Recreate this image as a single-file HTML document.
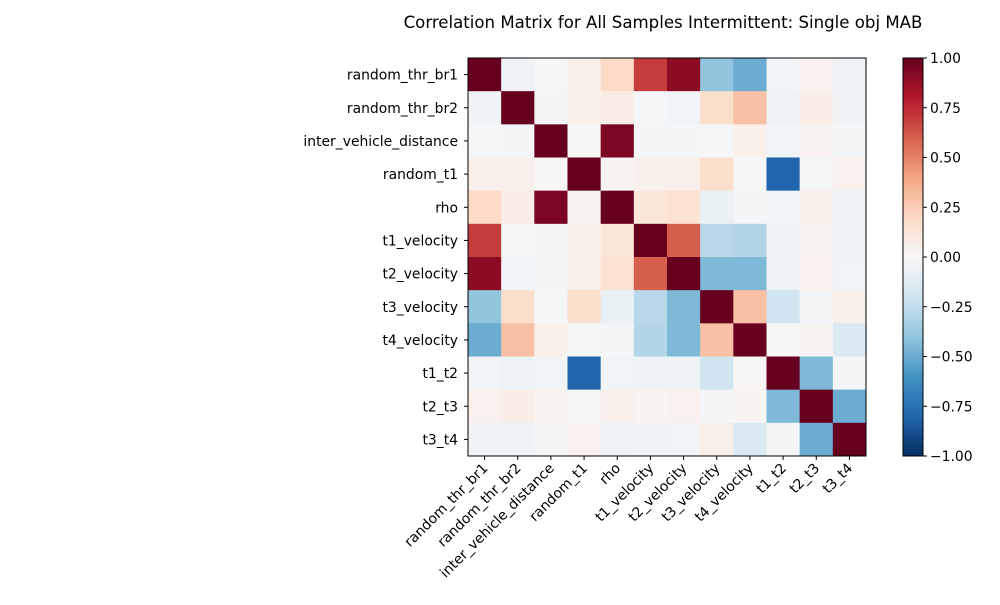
<!DOCTYPE html>
<html><head><meta charset="utf-8"><style>
body{margin:0;background:#fff;}
text{font-family:"DejaVu Sans","Liberation Sans",sans-serif;fill:#000;}
</style></head><body>
<svg id="chart" width="1000" height="600" xmlns="http://www.w3.org/2000/svg">
<defs><linearGradient id="cbgrad" x1="0" y1="1" x2="0" y2="0"></linearGradient></defs>
<text x="663" y="28" font-size="16.6" text-anchor="middle">Correlation Matrix for All Samples Intermittent: Single obj MAB</text>
<g id="cells"></g><g id="axes"></g><g id="cbar"></g>
</svg>
<script>
const labels=["random_thr_br1","random_thr_br2","inter_vehicle_distance","random_t1","rho","t1_velocity","t2_velocity","t3_velocity","t4_velocity","t1_t2","t2_t3","t3_t4"];
const matrix=[
[1,-0.04,-0.01,0.05,0.2,0.7,0.9,-0.4,-0.5,-0.03,0.04,-0.04],
[-0.04,1,-0.02,0.05,0.07,-0.01,-0.03,0.18,0.3,-0.06,0.07,-0.04],
[-0.01,-0.02,1,0.01,0.95,-0.02,-0.02,-0.01,0.05,-0.03,0.03,-0.02],
[0.05,0.05,0.01,1,0.02,0.05,0.06,0.18,-0.01,-0.8,-0.01,0.04],
[0.2,0.07,0.95,0.02,1,0.12,0.15,-0.07,-0.02,-0.03,0.05,-0.06],
[0.7,-0.01,-0.02,0.05,0.12,1,0.6,-0.28,-0.3,-0.04,0.02,-0.04],
[0.9,-0.03,-0.02,0.06,0.15,0.6,1,-0.45,-0.45,-0.05,0.04,-0.03],
[-0.4,0.18,-0.01,0.18,-0.07,-0.28,-0.45,1,0.3,-0.2,-0.02,0.06],
[-0.5,0.3,0.05,-0.01,-0.02,-0.3,-0.45,0.3,1,0.01,0.02,-0.15],
[-0.03,-0.06,-0.03,-0.8,-0.03,-0.04,-0.05,-0.2,0.01,1,-0.45,-0.02],
[0.04,0.07,0.03,-0.01,0.05,0.02,0.04,-0.02,0.02,-0.45,1,-0.5],
[-0.04,-0.04,-0.02,0.04,-0.06,-0.04,-0.03,0.06,-0.15,-0.02,-0.5,1]];
const cbTicks=[1,0.75,0.5,0.25,0,-0.25,-0.5,-0.75,-1];
const cbTickLabels=["1.00","0.75","0.50","0.25","0.00","\u22120.25","\u22120.50","\u22120.75","\u22121.00"];
const stops=["#053061","#2166ac","#4393c3","#92c5de","#d1e5f0","#f7f7f7","#fddbc7","#f4a582","#d6604d","#b2182b","#67001f"];
function hex(h){return [1,3,5].map(i=>parseInt(h.substr(i,2),16));}
function color(v){let t=(Math.max(-1,Math.min(1,v))+1)/2*10;let i=Math.min(9,Math.floor(t)),f=t-i;const a=hex(stops[i]),b=hex(stops[i+1]);return "rgb("+a.map((c,k)=>Math.round(c+(b[k]-c)*f)).join(",")+")";}
const NS="http://www.w3.org/2000/svg";
const L=468,T=58,S=398,n=labels.length,cw=S/n;
const xs=i=>L+i*cw, ys=i=>T+i*cw;
function mk(tag,attrs,parent){const e=document.createElementNS(NS,tag);for(const k in attrs)e.setAttribute(k,attrs[k]);parent.appendChild(e);return e;}
const cells=document.getElementById('cells'),axes=document.getElementById('axes'),cbar=document.getElementById('cbar');
for(let r=0;r<n;r++)for(let c=0;c<n;c++){
const e=mk('rect',{x:xs(c),y:ys(r),width:cw+0.5,height:cw+0.5,fill:color(matrix[r][c])},cells);

}
const fr=mk('rect',{x:L,y:T,width:S,height:S,fill:'none',stroke:'#000','stroke-width':1},axes);


labels.forEach((lab,i)=>{
const cy=ys(i)+cw/2,cx=xs(i)+cw/2;
mk('line',{x1:L,x2:L-4,y1:cy,y2:cy,stroke:'#000'},axes);
const ty=mk('text',{x:L-10,y:cy+5,'font-size':13.9,'text-anchor':'end'},axes);ty.textContent=lab;


mk('line',{x1:cx,x2:cx,y1:T+S,y2:T+S+4,stroke:'#000'},axes);
const tx=mk('text',{x:cx+4,y:T+S+13,'font-size':13.9,'text-anchor':'end',transform:`rotate(-45 ${cx+4} ${T+S+13})`},axes);tx.textContent=lab;


});
const g=document.getElementById('cbgrad');
stops.forEach((s,i)=>mk('stop',{offset:(i/10),'stop-color':s},g));
const CX=903,CW=20;
const cy=v=>T+(1-v)/2*S;
const cb=mk('rect',{x:CX,y:T,width:CW,height:S,fill:'url(#cbgrad)',stroke:'#000','stroke-width':1},cbar);


cbTicks.forEach((v,i)=>{const y=cy(v);
mk('line',{x1:CX+CW,x2:CX+CW+4,y1:y,y2:y,stroke:'#000'},cbar);
const t=mk('text',{x:CX+CW+7,y:y+5,'font-size':13.9},cbar);t.textContent=cbTickLabels[i];

});
</script>
</body></html>
